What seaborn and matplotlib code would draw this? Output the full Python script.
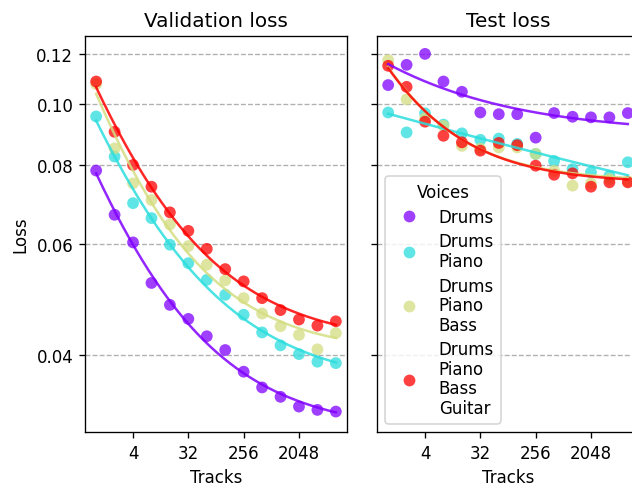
import numpy as np
import pandas as pd
import matplotlib
matplotlib.use("Agg")
import matplotlib.pyplot as plt
import matplotlib.ticker as mticker
import seaborn as sns

# =============================================================================
# DATA
# =============================================================================

tracks = [1, 2, 4, 8, 16, 32, 64, 128, 256, 512, 1024, 2048, 4096, 8192]

voices = ["Drums", "Drums\nPiano", "Drums\nPiano\nBass", "Drums\nPiano\nBass\nGuitar"]

val_drums = [0.0785, 0.0668, 0.0604, 0.0521, 0.0481, 0.0457, 0.0429,
             0.0408, 0.0377, 0.0356, 0.0344, 0.0332, 0.0328, 0.0326]
val_dp = [0.0956, 0.0826, 0.0697, 0.0660, 0.0599, 0.0560, 0.0527,
          0.0499, 0.0464, 0.0435, 0.0415, 0.0402, 0.0391, 0.0389]
val_dpb = [0.1076, 0.0851, 0.0749, 0.0705, 0.0645, 0.0596, 0.0557,
           0.0526, 0.0493, 0.0466, 0.0445, 0.0431, 0.0409, 0.0434]
val_dpbg = [0.1086, 0.0904, 0.0801, 0.0740, 0.0674, 0.0630, 0.0590,
            0.0548, 0.0524, 0.0493, 0.0472, 0.0456, 0.0446, 0.0453]

test_drums = [0.1072, 0.1154, 0.1201, 0.1086, 0.1046, 0.0970, 0.0964,
              0.0964, 0.0885, 0.0968, 0.0955, 0.0953, 0.0953, 0.0968]
test_dp = [0.0970, 0.0902, 0.0967, 0.0928, 0.0899, 0.0878, 0.0882,
           0.0865, 0.0834, 0.0813, 0.0789, 0.0780, 0.0770, 0.0809]
test_dpb = [0.1174, 0.1018, 0.0950, 0.0924, 0.0859, 0.0850, 0.0854,
            0.0854, 0.0834, 0.0784, 0.0743, 0.0749, 0.0761, 0.0755]
test_dpbg = [0.1150, 0.1065, 0.0938, 0.0891, 0.0870, 0.0844, 0.0868,
             0.0861, 0.0799, 0.0773, 0.0777, 0.0740, 0.0752, 0.0752]

x_ticks = [4, 32, 256, 2048]
y_ticks = [0.04, 0.06, 0.08, 0.10, 0.12]

COLORS = [tuple(c) for c in plt.cm.rainbow(np.linspace(0, 1, len(voices)))]
PALETTE = dict(zip(voices, COLORS))

DPI = 120
W, H = 632, 490


def fit_power_law(x, y):
    """Least squares fit of y = a * x^-b + c (grid over b, linear in a and c)."""
    x = np.asarray(x, dtype=float)
    y = np.asarray(y, dtype=float)
    best = None
    for b in np.linspace(0.005, 2.0, 4000):
        A = np.column_stack([x ** -b, np.ones_like(x)])
        coef, _, _, _ = np.linalg.lstsq(A, y, rcond=None)
        sse = np.sum((A @ coef - y) ** 2)
        if best is None or sse < best[0]:
            best = (sse, coef[0], b, coef[1])
    _, a, b, c = best
    return lambda t: a * np.asarray(t, dtype=float) ** -b + c


def build_frames(series):
    points = []
    curves = []
    x_dense = np.logspace(np.log2(tracks[0]), np.log2(tracks[-1]), 300, base=2)
    for name, values in zip(voices, series):
        points.append(pd.DataFrame({"tracks": tracks, "loss": values, "voices": name}))
        f = fit_power_law(tracks, values)
        curves.append(pd.DataFrame({"tracks": x_dense, "loss": f(x_dense), "voices": name}))
    return pd.concat(points, ignore_index=True), pd.concat(curves, ignore_index=True)


# =============================================================================
# PLOT
# =============================================================================

fig = plt.figure(figsize=(W / DPI, H / DPI), dpi=DPI)
ax1 = fig.add_axes([85 / W, 57 / H, 262 / W, 396 / H])
ax2 = fig.add_axes([377 / W, 57 / H, 262 / W, 396 / H], sharey=ax1)

panels = [
    (ax1, "Validation loss", [val_drums, val_dp, val_dpb, val_dpbg]),
    (ax2, "Test loss", [test_drums, test_dp, test_dpb, test_dpbg]),
]

for ax, title, series in panels:
    pts, fits = build_frames(series)
    ax.set_xscale("log", base=2)
    ax.set_yscale("log")
    sns.scatterplot(data=pts, x="tracks", y="loss", hue="voices", palette=PALETTE,
                    s=50, alpha=0.75, linewidth=0, ax=ax, legend=(ax is ax2), zorder=2)
    sns.lineplot(data=fits, x="tracks", y="loss", hue="voices", palette=PALETTE,
                 linewidth=1.5, alpha=0.85, ax=ax, legend=False, zorder=3)

    ax.set_title(title, fontsize=12)
    ax.set_xlabel("Tracks")
    ax.xaxis.set_major_locator(mticker.FixedLocator(x_ticks))
    ax.xaxis.set_major_formatter(mticker.FixedFormatter([str(t) for t in x_ticks]))
    ax.xaxis.set_minor_locator(mticker.NullLocator())
    ax.set_xlim(2 ** -0.605, 2 ** 13.605)
    ax.grid(True, axis="y", linestyle="--", color="#b0b0b0", linewidth=0.8)
    ax.set_axisbelow(True)

ax1.yaxis.set_major_locator(mticker.FixedLocator(y_ticks))
ax1.yaxis.set_major_formatter(mticker.FormatStrFormatter("%.2f"))
ax1.yaxis.set_minor_locator(mticker.NullLocator())
ax1.set_ylim(0.03026, 0.1282)
ax1.set_ylabel("Loss")
ax2.set_ylabel("")
ax2.tick_params(axis="y", labelleft=False)

leg = ax2.legend(title="Voices", loc="lower left", labelspacing=0.4)
for txt in leg.get_texts():
    txt.set_linespacing(1.11)

fig.savefig("out.png", dpi=DPI)
